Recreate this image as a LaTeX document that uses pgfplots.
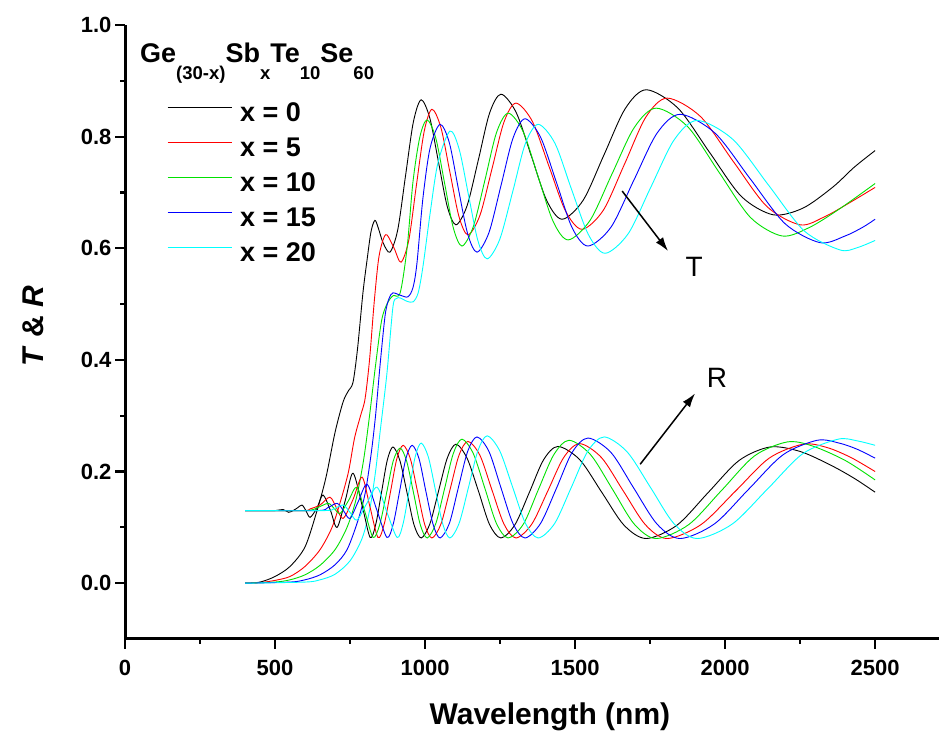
\documentclass[border=0pt]{standalone}
\usepackage{pgfplots}
\pgfplotsset{compat=1.18}
\usepackage{fontspec}
\setmainfont{Liberation Sans}
\usetikzlibrary{arrows.meta}
\definecolor{cgreen}{RGB}{0,225,0}
\definecolor{cblue}{RGB}{0,0,255}
\definecolor{ccyan}{RGB}{0,255,255}
\definecolor{cred}{RGB}{255,0,0}
\newcommand{\sub}[1]{\raisebox{-17pt}{\fontsize{18.5}{18.5}\selectfont #1}}
\newcommand{\lent}[1]{\hspace{8pt}\raisebox{-4.5pt}{#1}}
\begin{document}
\begin{tikzpicture}[x=1pt,y=1pt]
\path[use as bounding box] (0,0) rectangle (939,733);
\begin{axis}[
  at={(125pt,94pt)}, anchor=south west,
  scale only axis, width=814pt, height=614pt,
  xmin=0, xmax=2713, ymin=-0.1, ymax=1.0,
  axis x line=bottom, axis y line=left,
  axis line style={-, line width=3pt},
  xtick={0,500,1000,1500,2000,2500}, minor x tick num=1,
  ytick={0,0.2,0.4,0.6,0.8,1.0}, minor y tick num=1,
  tick align=outside, major tick length=10pt, minor tick length=5pt,
  tick style={line width=2.2pt, black},
  tick label style={font=\bfseries\fontsize{22}{22}\selectfont},
  /pgf/number format/assume math mode=true,
  xticklabel style={/pgf/number format/set thousands separator={}, yshift=-8pt},
  yticklabel style={/pgf/number format/fixed, /pgf/number format/fixed zerofill, /pgf/number format/precision=1},
  xlabel={Wavelength (nm)},
  ylabel={\textit{T} \& \textit{R}},
  label style={font=\bfseries\fontsize{30}{30}\selectfont},
  xlabel style={at={(ticklabel cs:0.522)}, yshift=-20pt},
  ylabel style={at={(ticklabel cs:0.51)}},
  ylabel shift=30pt,
  legend style={at={(axis cs:140,0.870)}, anchor=north west, draw=none, fill=none,
    font=\bfseries\fontsize{27}{27}\selectfont, row sep=16pt, inner sep=0pt,
    nodes={inner sep=0pt, text height=19pt, text depth=0pt},
    /tikz/every even column/.append style={column sep=8pt}},
  legend cell align=left,
  legend image code/.code={\draw[#1] (0pt,0pt) -- (64pt,0pt);},
  every axis plot/.append style={line width=0.9pt, smooth},
]
% ---------- Transmission ----------
\addplot[black] table {
400 0
450 0.002
500 0.012
550 0.03
600 0.065
640 0.13
670 0.19
700 0.27
727 0.325
745 0.345
760 0.36
775 0.42
793 0.52
807 0.58
820 0.63
833 0.650
845 0.635
860 0.61
883 0.593
909 0.633
935 0.730
961 0.826
987 0.866
1016 0.833
1045 0.754
1074 0.675
1103 0.642
1140 0.676
1178 0.759
1215 0.842
1253 0.876
1304 0.843
1355 0.764
1406 0.685
1457 0.652
1527 0.686
1597 0.768
1667 0.850
1737 0.884
1843 0.851
1948 0.772
2054 0.693
2160 0.660
2260 0.672
2360 0.71
2430 0.745
2500 0.775
};
\addlegendentry{\lent{x = 0}}
\addplot[cred] table {
400 0
450 0.001
500 0.005
550 0.012
600 0.03
650 0.06
690 0.10
720 0.15
745 0.20
765 0.26
785 0.30
800 0.33
815 0.40
830 0.50
845 0.58
860 0.615
873 0.624
897 0.60
920 0.575
946 0.615
971 0.712
997 0.809
1023 0.849
1053 0.816
1083 0.736
1113 0.657
1143 0.624
1183 0.659
1223 0.742
1263 0.826
1303 0.860
1358 0.827
1413 0.747
1468 0.667
1523 0.634
1594 0.668
1665 0.751
1736 0.835
1807 0.869
1918 0.836
2028 0.755
2139 0.675
2250 0.642
2330 0.656
2410 0.68
2500 0.709
};
\addlegendentry{\lent{x = 5}}
\addplot[cgreen] table {
400 0
500 0.002
550 0.006
600 0.015
650 0.032
700 0.06
740 0.10
770 0.15
795 0.22
815 0.30
835 0.39
855 0.47
873 0.50
893 0.515
917 0.52
940 0.60
960 0.72
983 0.80
1007 0.83
1036 0.797
1065 0.717
1094 0.637
1123 0.604
1161 0.639
1200 0.723
1238 0.807
1277 0.842
1327 0.809
1377 0.728
1427 0.648
1477 0.615
1550 0.650
1623 0.733
1697 0.816
1770 0.851
1875 0.818
1980 0.736
2085 0.655
2190 0.622
2280 0.637
2380 0.67
2500 0.716
};
\addlegendentry{\lent{x = 10}}
\addplot[cblue] table {
400 0
550 0.002
600 0.006
650 0.015
700 0.033
740 0.06
775 0.11
800 0.16
820 0.23
835 0.30
850 0.39
867 0.48
880 0.51
893 0.52
917 0.516
943 0.513
960 0.53
973 0.573
993 0.69
1017 0.78
1050 0.822
1081 0.789
1111 0.707
1142 0.626
1173 0.593
1213 0.628
1253 0.712
1293 0.797
1333 0.832
1385 0.799
1438 0.718
1490 0.637
1543 0.604
1620 0.638
1696 0.722
1773 0.806
1850 0.840
1967 0.806
2083 0.725
2200 0.644
2317 0.610
2400 0.622
2460 0.638
2500 0.652
};
\addlegendentry{\lent{x = 15}}
\addplot[ccyan] table {
400 0
600 0.002
650 0.006
700 0.016
750 0.04
790 0.08
815 0.13
835 0.20
850 0.27
873 0.376
893 0.495
905 0.51
917 0.511
940 0.505
960 0.504
977 0.52
993 0.567
1017 0.663
1043 0.753
1083 0.81
1114 0.777
1145 0.695
1176 0.614
1207 0.581
1249 0.616
1292 0.701
1334 0.787
1377 0.822
1433 0.788
1488 0.706
1544 0.625
1600 0.591
1677 0.626
1753 0.710
1830 0.794
1907 0.829
2026 0.795
2145 0.713
2264 0.631
2383 0.597
2440 0.601
2500 0.614
};
\addlegendentry{\lent{x = 20}}
% ---------- Reflection ----------
\addplot[black, forget plot] table {
400 0.13
450 0.13
500 0.13
527 0.132
545 0.127
560 0.13
575 0.135
590 0.14
603 0.13
617 0.118
640 0.135
660 0.158
685 0.13
707 0.10
735 0.15
760 0.197
790 0.14
817 0.082
836 0.106
855 0.163
874 0.220
893 0.244
916 0.220
940 0.162
963 0.105
987 0.081
1016 0.106
1045 0.165
1074 0.224
1103 0.249
1140 0.224
1178 0.165
1215 0.105
1253 0.081
1300 0.105
1348 0.163
1395 0.221
1443 0.245
1516 0.221
1590 0.162
1663 0.104
1737 0.080
1840 0.104
1943 0.162
2047 0.220
2150 0.244
2250 0.236
2350 0.212
2430 0.188
2500 0.163
};
\addplot[cred, forget plot] table {
400 0.13
500 0.13
600 0.13
617 0.133
650 0.14
683 0.154
705 0.135
727 0.116
760 0.15
790 0.19
815 0.14
843 0.082
864 0.106
885 0.164
906 0.223
927 0.247
951 0.223
975 0.164
999 0.105
1023 0.081
1053 0.106
1083 0.167
1113 0.229
1143 0.254
1183 0.229
1223 0.167
1263 0.106
1303 0.081
1356 0.106
1409 0.165
1462 0.225
1515 0.250
1588 0.225
1661 0.165
1734 0.105
1807 0.080
1920 0.105
2033 0.164
2147 0.224
2260 0.249
2340 0.243
2420 0.225
2500 0.200
};
\addplot[cgreen, forget plot] table {
400 0.13
600 0.13
640 0.135
677 0.143
697 0.134
717 0.125
745 0.148
773 0.172
800 0.127
827 0.082
849 0.105
872 0.162
894 0.219
917 0.242
939 0.218
962 0.161
984 0.105
1007 0.081
1036 0.107
1065 0.169
1094 0.232
1123 0.258
1161 0.232
1200 0.169
1238 0.107
1277 0.081
1328 0.106
1378 0.168
1429 0.230
1480 0.256
1552 0.230
1625 0.168
1697 0.106
1770 0.080
1879 0.105
1988 0.166
2098 0.228
2207 0.253
2290 0.246
2400 0.220
2500 0.185
};
\addplot[cblue, forget plot] table {
400 0.13
640 0.13
675 0.135
707 0.143
728 0.13
750 0.116
778 0.147
807 0.177
840 0.13
873 0.082
894 0.106
915 0.164
936 0.223
957 0.247
980 0.223
1003 0.164
1027 0.105
1050 0.081
1081 0.107
1111 0.171
1142 0.236
1173 0.262
1213 0.236
1253 0.171
1293 0.107
1333 0.081
1385 0.107
1438 0.170
1490 0.234
1543 0.260
1620 0.234
1696 0.170
1773 0.106
1850 0.080
1964 0.106
2078 0.168
2193 0.230
2307 0.256
2380 0.251
2440 0.240
2500 0.224
};
\addplot[ccyan, forget plot] table {
400 0.13
660 0.13
695 0.133
727 0.14
750 0.127
773 0.113
806 0.143
840 0.172
873 0.127
907 0.082
927 0.107
947 0.166
967 0.226
987 0.251
1011 0.226
1035 0.166
1059 0.106
1083 0.081
1114 0.108
1145 0.172
1176 0.237
1207 0.264
1249 0.237
1292 0.172
1334 0.108
1377 0.081
1432 0.107
1487 0.171
1542 0.236
1597 0.262
1674 0.235
1752 0.171
1829 0.107
1907 0.080
2024 0.106
2142 0.169
2259 0.232
2377 0.258
2440 0.255
2500 0.247
};
% ---------- annotations ----------
\node[anchor=base west, font=\bfseries\fontsize{27}{27}\selectfont, inner sep=0pt]
  at (axis cs:50,0.932) {Ge\sub{(30-x)}Sb\sub{x}Te\sub{10}Se\sub{60}};
\draw[line width=1.5pt, -{Latex[length=14pt,width=9pt]}] (axis cs:1657,0.7025) -- (axis cs:1810,0.595);
\node[font=\fontsize{28}{28}\selectfont] at (axis cs:1897,0.566) {T};
\draw[line width=1.5pt, -{Latex[length=14pt,width=9pt]}] (axis cs:1717,0.213) -- (axis cs:1900,0.340);
\node[font=\fontsize{28}{28}\selectfont] at (axis cs:1973,0.367) {R};
\end{axis}
\end{tikzpicture}
\end{document}
